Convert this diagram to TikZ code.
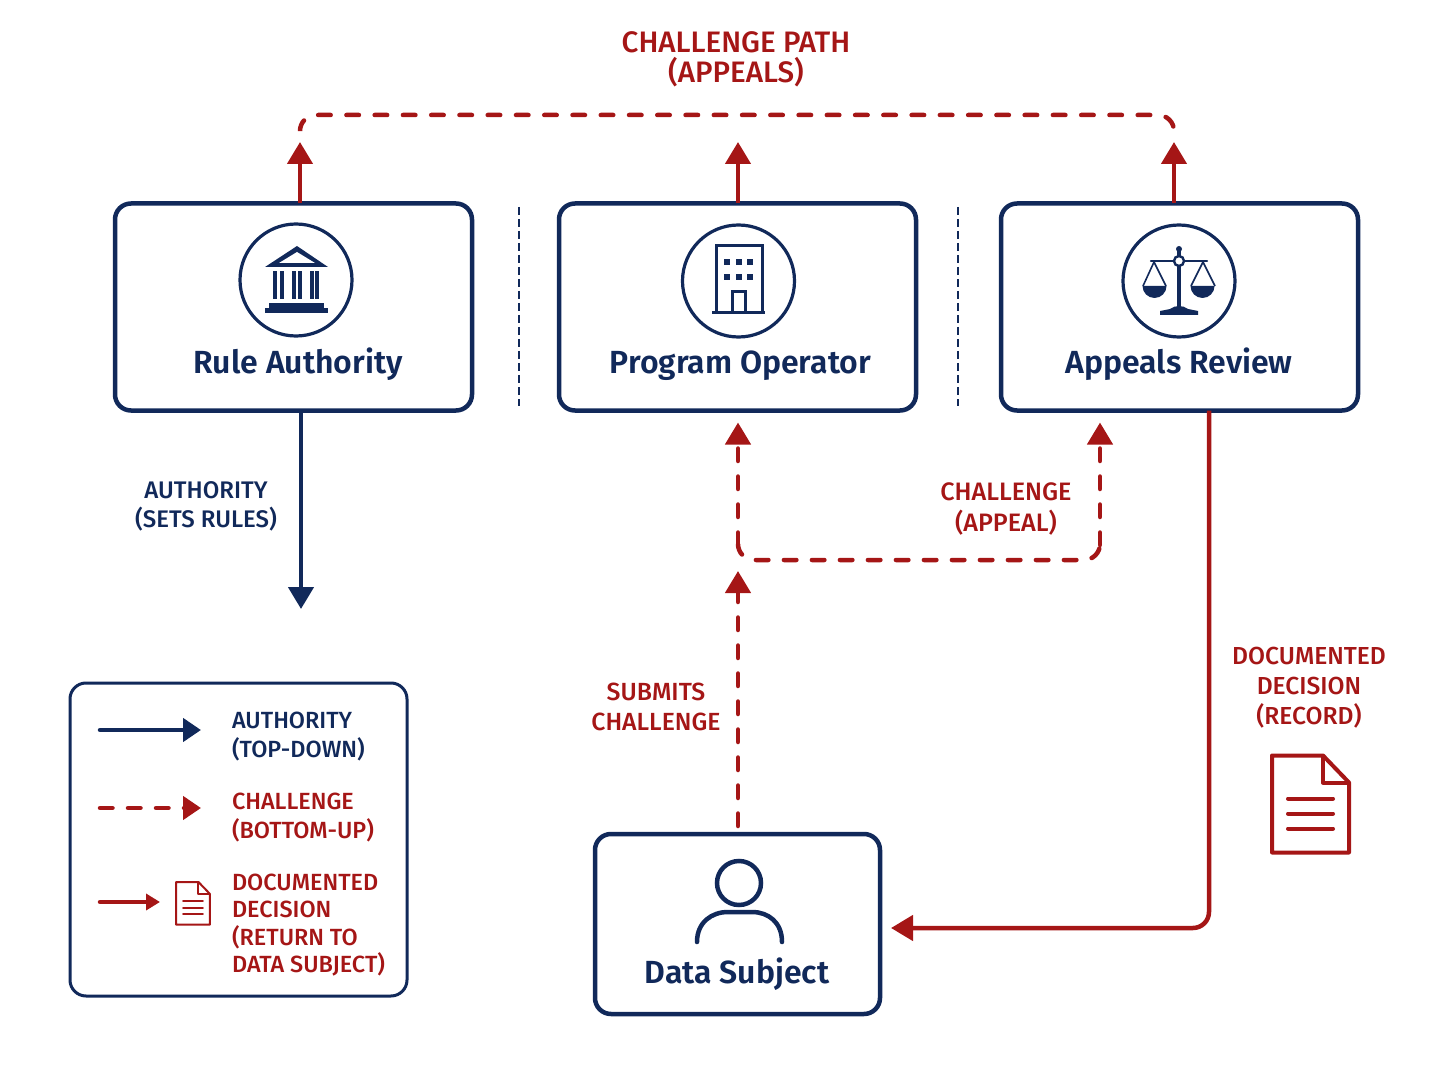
\documentclass[tikz,border=0pt]{standalone}
\usepackage{fontspec}
\setmainfont[BoldFont={Fira Sans SemiBold}]{Fira Sans Medium}
\usetikzlibrary{arrows.meta,calc}
\definecolor{navy}{HTML}{11295A}
\definecolor{crimson}{HTML}{A51616}
\tikzset{
	box/.style={draw=navy, line width=2.25pt, rounded corners=8pt, anchor=north west, inner sep=0pt, outer sep=0pt},
	iconring/.style={circle, draw=navy, line width=1.6pt, minimum size=56pt, inner sep=0pt},
	title/.style={text=navy, anchor=base, font=\fontsize{16}{18}\selectfont\bfseries},
	navytext/.style={text=navy, align=center, font=\fontsize{12}{14.7}\selectfont},
	redtext/.style={text=crimson, align=center, font=\fontsize{12.3}{15}\selectfont},
	legendtext/.style={anchor=west, align=left, font=\fontsize{11.7}{14.5}\selectfont},
	authority/.style={draw=navy, line width=2.25pt, -{Triangle[length=11pt,width=12.5pt]}},
	record/.style={draw=crimson, line width=2.25pt, rounded corners=8pt, -{Triangle[length=11pt,width=12.5pt]}},
	challenge/.style={record, line cap=round, dash pattern=on 6.25pt off 7.75pt},
	dashline/.style={challenge, -},
	separator/.style={draw=navy, line width=.6pt, dash pattern=on 4pt off 2pt},
	docicon/.pic={
		\draw[crimson, line join=round] (0,0) -- (51,0) -- (77,27) -- (77,97) -- (0,97) -- cycle;
		\draw[crimson, line join=round] (51,0) -- (51,27) -- (77,27);
		\foreach \y in {43,58,73}
			\draw[crimson, line cap=round] (16,\y) -- (61,\y);
	}
}
\begin{document}
\begin{tikzpicture}[x=0.5pt,y=-0.5pt]
	\useasboundingbox (0,0) rectangle (1448,1086);

	% Kaesten
	\node[box, minimum width=178.5pt, minimum height=103.5pt] (rule) at (115,203.5) {};
	\node[box, minimum width=178.5pt, minimum height=103.5pt] (operator) at (559,203.5) {};
	\node[box, minimum width=178.5pt, minimum height=103.5pt] (appeals) at (1001,203.5) {};
	\node[box, minimum width=142.5pt, minimum height=90pt] (subject) at (595,834) {};
	\node[box, line width=1.5pt, minimum width=168.5pt, minimum height=156.5pt] (legend) at (70,683) {};

	% Titel
	\node[title] (ruleTitle) at (298,373) {Rule Authority};
	\node[title] (operatorTitle) at (740.5,373) {Program Operator};
	\node[title] (appealsTitle) at (1179,373) {Appeals Review};
	\node[title] (subjectTitle) at (737,983) {Data Subject};

	% Trennlinien
	\foreach \x in {519,958}
		\draw[separator] (\x,207) -- (\x,406);

	% Symbole
	\node[iconring] (ruleIcon) at (296,280) {};
	\node[iconring] (operatorIcon) at (738.5,281) {};
	\node[iconring] (appealsIcon) at (1179,281) {};

	% Gebaeude mit Saeulen
	\fill[navy, line join=round] (265,267) -- (297,246) -- (328,267) -- cycle;
	\fill[white] (279,263) -- (297,252) -- (315,263) -- cycle;
	\foreach \x in {273,280,292,298,310,315}
		\fill[navy] (\x,271) rectangle (\x+4,299);
	\fill[navy] (269,303) rectangle (324,308);
	\fill[navy] (265,308) rectangle (328,313);

	% Buerohaus
	\draw[navy, line width=1.5pt] (716,313) -- (716,246) -- (762,246) -- (762,313);
	\draw[navy, line width=1.5pt] (712,313) -- (765,313);
	\draw[navy, line width=1.5pt] (732,313) -- (732,292) -- (745,292) -- (745,313);
	\foreach \x in {727,739,750}
		\foreach \y in {262,277}
			\fill[navy] (\x-3,\y-3) rectangle (\x+3,\y+3);

	% Waage
	\draw[navy, line width=1.2pt, line cap=round] (1151,261) -- (1207,261);
	\fill[navy] (1177,250) rectangle (1181,308);
	\fill[navy] (1179,249) circle (3);
	\draw[navy, line width=1.2pt, fill=white] (1179,261) circle (5);
	\draw[navy, line width=.8pt] (1143,286) -- (1154,262) -- (1166,286);
	\draw[navy, line width=.8pt] (1191,286) -- (1203,262) -- (1215,286);
	\fill[navy] (1142.5,286) arc[start angle=180, end angle=0, radius=12] -- cycle;
	\fill[navy] (1190.5,286) arc[start angle=180, end angle=0, radius=12] -- cycle;
	\fill[navy] (1160,315) -- (1160,311) -- (1170,309) .. controls (1175,305) and (1183,305) .. (1188,309) -- (1198,311) -- (1198,315) -- cycle;

	% Person
	\draw[navy, line width=2.25pt] (739,883) circle (22);
	\draw[navy, line width=2.25pt, line cap=round] (697,942) .. controls (697,922) and (712,912) .. (728,912) -- (752,912) .. controls (768,912) and (782,922) .. (782,942);

	% Beschriftungen
	\node[redtext, font=\fontsize{14.8}{15}\selectfont] (pathLabel) at (736,59) {CHALLENGE PATH\\(APPEALS)};
	\node[navytext] (authorityLabel) at (206,506.5) {AUTHORITY\\(SETS RULES)};
	\node[redtext, font=\fontsize{12.6}{15.5}\selectfont] (appealLabel) at (1006,509) {CHALLENGE\\(APPEAL)};
	\node[redtext, font=\fontsize{12.4}{15}\selectfont] (submitsLabel) at (656,707) {SUBMITS\\CHALLENGE};
	\node[redtext] (recordLabel) at (1309,688) {DOCUMENTED\\DECISION\\(RECORD)};
	\pic[line width=2pt] at (1272,755.5) {docicon};

	% Pfeile nach oben
	\coordinate (ruleTip) at (300,142);
	\coordinate (operatorTip) at (738,142);
	\coordinate (appealsTip) at (1174,142);
	\draw[record] (rule.north -| ruleTip) -- (ruleTip);
	\draw[record] (operator.north -| operatorTip) -- (operatorTip);
	\draw[record] (appeals.north -| appealsTip) -- (appealsTip);
	\coordinate (pathLeft) at (300,130);
	\coordinate (pathRight) at (1174,130);
	\draw[dashline, dash pattern=on 6.25pt off 7.88pt] (pathLeft) -- (300,115) -- (1174,115) -- (pathRight);

	% Autoritaet
	\coordinate (authorityTip) at (301,609);
	\draw[authority] (rule.south -| authorityTip) -- (authorityTip);

	% Einspruch
	\coordinate (subjectTop) at (738,826);
	\coordinate (submitsTip) at (738,571);
	\coordinate (operatorBottom) at (738,545);
	\coordinate (appealsBottom) at (1100,545);
	\draw[challenge] (subjectTop) -- (submitsTip);
	\draw[challenge] (operatorBottom) -- ($(operator.south -| operatorBottom)+(0,12)$);
	\draw[dashline] (operatorBottom) -- (738,560) -- (1100,560) -- (appealsBottom);
	\draw[challenge] (appealsBottom) -- ($(appeals.south -| appealsBottom)+(0,12)$);

	% Bescheid
	\coordinate (recordCorner) at (1209,928);
	\draw[record] (appeals.south -| recordCorner) -- (recordCorner) -- ($(subject.east |- recordCorner)+(11,0)$);

	% Legende
	\coordinate (legendA) at (100,730);
	\coordinate (legendAtip) at (201,730);
	\coordinate (legendB) at (100,808);
	\coordinate (legendBtip) at (201,808);
	\coordinate (legendC) at (100,902);
	\coordinate (legendCtip) at (160,902);
	\draw[authority, line cap=round, -{Triangle[length=9pt,width=11.5pt]}] (legendA) -- (legendAtip);
	\draw[challenge, -{Triangle[length=9pt,width=11.5pt]}] (legendB) -- (legendBtip);
	\draw[record, line cap=round, -{Triangle[length=7pt,width=8pt]}] (legendC) -- (legendCtip);
	\pic[scale=.44, line width=1pt] at (176,882) {docicon};
	\node[legendtext, text=navy] (legendTextA) at (225,737) {AUTHORITY\\(TOP-DOWN)};
	\node[legendtext, text=crimson] (legendTextB) at (225,817.5) {CHALLENGE\\(BOTTOM-UP)};
	\node[legendtext, text=crimson, font=\fontsize{11.7}{13.8}\selectfont] (legendTextC) at (225,925) {DOCUMENTED\\DECISION\\(RETURN TO\\DATA SUBJECT)};
\end{tikzpicture}
\end{document}
